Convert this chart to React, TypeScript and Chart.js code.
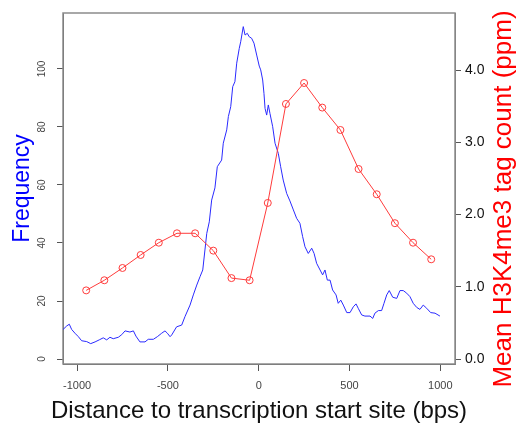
import React, { useEffect, useRef } from 'react';
import { Chart, registerables } from 'chart.js';

Chart.register(...registerables);

// Blue series: frequency of peaks vs distance to TSS
const freqPositions = [
  -1077, -1057, -1043, -1030, -1012, -993, -975, -947, -925, -901,
  -878, -856, -837, -819, -801, -773, -754, -736, -709, -690,
  -676, -654, -626, -608, -580, -558, -534, -516, -503, -488,
  -479, -452, -424, -406, -378, -360, -341, -323, -308, -296,
  -286, -272, -259, -241, -228, -204, -195, -176, -167, -154,
  -143, -131, -121, -107, -99, -85, -75, -63, -52, -39,
  -26, -11, 3, 11, 22, 29, 35, 44, 53, 62,
  77, 90, 108, 121, 135, 154, 172, 191, 209, 227,
  242, 255, 273, 292, 305, 319, 338, 352, 365, 378,
  393, 407, 426, 438, 452, 466, 485, 503, 521, 536,
  548, 567, 585, 613, 628, 640, 659, 677, 690, 705,
  719, 738, 760, 778, 796, 815, 833, 851, 870, 888,
  906, 925, 947, 971, 998,
];
const freqValues = [
  10.2, 11.4, 12.0, 10.2, 8.9, 7.7, 6.3, 6.0, 5.3, 5.9,
  6.6, 7.3, 6.6, 7.5, 7.0, 7.5, 8.4, 9.7, 9.3, 9.7,
  7.9, 5.9, 5.9, 6.8, 6.8, 7.7, 8.9, 9.7, 8.9, 7.7,
  8.3, 11.1, 11.7, 14.6, 18.6, 22.1, 25.5, 28.4, 30.7, 37.6,
  43.3, 47.3, 54.8, 59.0, 66.3, 68.6, 74.4, 79, 83.6, 87,
  93.9, 95.6, 102, 107.1, 109.4, 114.6, 111.7, 112.3, 111.1, 110.6,
  108.9, 104.8, 101, 99.7, 96.2, 91.6, 86.4, 84.1, 87.6, 84.7,
  80.1, 74.4, 70.9, 66.3, 61.7, 57.1, 54.5, 51.4, 48.5, 46.8,
  42.2, 38.7, 36.4, 38.2, 36.4, 33, 30.7, 29, 30.7, 27.2,
  27.2, 23.8, 22.1, 19.2, 20.3, 18.6, 16, 16, 18, 19,
  17.5, 15.2, 14.8, 14.8, 14, 15.8, 16.7, 16.7, 19.2, 22.1,
  23.6, 21.3, 20.9, 23.6, 23.6, 22.7, 21.5, 19.2, 17.8, 17.1,
  18.6, 17.5, 16, 15.8, 14.8,
];

// Red series: mean H3K4me3 tag count (ppm)
const tagPositions = [
  -950, -850, -750, -650, -550, -450, -350, -250, -150, -50,
  50, 150, 250, 350, 450, 550, 650, 750, 850, 950,
];
const tagValues = [
  0.95, 1.09, 1.26, 1.44, 1.61, 1.74, 1.74, 1.50, 1.12, 1.09,
  2.16, 3.53, 3.82, 3.48, 3.17, 2.63, 2.28, 1.88, 1.61, 1.38,
];

const xTicks = [-1000, -500, 0, 500, 1000];
const leftTicks = [0, 20, 40, 60, 80, 100];
const rightTicks = [0, 1, 2, 3, 4];

const xTitle = 'Distance to transcription start site (bps)';
const leftTitle = 'Frequency';
const rightTitle = 'Mean H3K4me3 tag count (ppm)';

const decorPlugin = {
  id: 'decor',
  beforeDatasetsDraw(chart: any) {
    const { ctx, chartArea: a } = chart;
    ctx.save();
    ctx.strokeStyle = '#8c8c8c';
    ctx.lineWidth = 1.5;
    ctx.strokeRect(a.left, a.top, a.right - a.left, a.bottom - a.top);
    ctx.restore();
  },
  afterDraw(chart: any) {
    const { ctx, scales } = chart;
    const y = scales.y;
    ctx.save();
    ctx.fillStyle = '#444';
    ctx.font = '10px "Liberation Sans", Arial, sans-serif';
    ctx.textAlign = 'center';
    ctx.textBaseline = 'middle';
    leftTicks.forEach((v) => {
      const py = y.getPixelForValue(v);
      ctx.save();
      ctx.translate(42, py);
      ctx.rotate(-Math.PI / 2);
      ctx.fillText(String(v), 0, 0);
      ctx.restore();
    });
    // x-axis title (not width-limited)
    ctx.fillStyle = '#111';
    ctx.font = '24px "Liberation Sans", Arial, sans-serif';
    ctx.fillText(xTitle, 259, 411);
    // right title, reading bottom-to-top
    ctx.fillStyle = '#ff0000';
    ctx.font = '26px "Liberation Sans", Arial, sans-serif';
    ctx.save();
    ctx.translate(504, 199);
    ctx.rotate(-Math.PI / 2);
    ctx.fillText(rightTitle, 0, 0);
    ctx.restore();
    ctx.restore();
  },
};

export default function App() {
  const ref = useRef<HTMLCanvasElement | null>(null);

  useEffect(() => {
    const canvas = ref.current;
    if (!canvas) return;
    const blueData = freqPositions.map((x, i) => ({ x, y: freqValues[i] }));
    const redData = tagPositions.map((x, i) => ({ x, y: tagValues[i] }));

    const chart = new Chart(canvas, {
      type: 'scatter',
      data: {
        datasets: [
          {
            label: 'H3K4me3',
            data: redData,
            yAxisID: 'y2',
            showLine: true,
            borderColor: '#ff3b3b',
            borderWidth: 1,
            pointRadius: 3.5,
            pointBorderColor: '#ff3b3b',
            pointBackgroundColor: 'rgba(255,255,255,0)',
            pointBorderWidth: 1,
            order: 0,
          },
          {
            label: 'Frequency',
            data: blueData,
            yAxisID: 'y',
            showLine: true,
            borderColor: '#2a2aff',
            borderWidth: 1,
            pointRadius: 0,
            tension: 0,
            order: 1,
          },
        ],
      },
      options: {
        responsive: false,
        animation: false,
        devicePixelRatio: 1,
        layout: { padding: { top: 13, left: 0, right: 0, bottom: 0 } },
        plugins: { legend: { display: false }, tooltip: { enabled: false } },
        scales: {
          x: {
            type: 'linear',
            position: 'bottom',
            min: -1077.6,
            max: 1081,
            afterBuildTicks: (s: any) => {
              s.ticks = xTicks.map((v) => ({ value: v }));
            },
            afterFit: (s: any) => {
              s.height = 63;
            },
            grid: { drawOnChartArea: false, tickLength: 7, color: '#555', lineWidth: 1 },
            border: { display: true, color: '#555', width: 1 },
            ticks: {
              padding: 8,
              color: '#444',
              font: { family: '"Liberation Sans", Arial, sans-serif', size: 11 },
              maxRotation: 0,
              autoSkip: false,
              callback: (v: any) => String(v),
            },
          },
          y: {
            type: 'linear',
            position: 'left',
            min: -1.72,
            max: 119.3,
            afterBuildTicks: (s: any) => {
              s.ticks = leftTicks.map((v) => ({ value: v }));
            },
            afterFit: (s: any) => {
              s.width = 63;
            },
            grid: { drawOnChartArea: false, tickLength: 6, color: '#555', lineWidth: 1 },
            border: { display: true, color: '#555', width: 1 },
            ticks: { display: false },
            title: {
              display: true,
              text: leftTitle,
              color: '#0000ff',
              font: { family: '"Liberation Sans", Arial, sans-serif', size: 23 },
              padding: { top: 9, bottom: 0 },
            },
          },
          y2: {
            type: 'linear',
            position: 'right',
            min: -0.069,
            max: 4.789,
            afterBuildTicks: (s: any) => {
              s.ticks = rightTicks.map((v) => ({ value: v }));
            },
            afterFit: (s: any) => {
              s.width = 63;
            },
            grid: { drawOnChartArea: false, tickLength: 6, color: '#555', lineWidth: 1 },
            border: { display: true, color: '#777', width: 1 },
            ticks: {
              padding: 4,
              color: '#111',
              font: { family: '"Liberation Sans", Arial, sans-serif', size: 14 },
              callback: (v: any) => Number(v).toFixed(1),
            },
          },
        },
      },
      plugins: [decorPlugin],
    });
    return () => chart.destroy();
  }, []);

  return (
    <div style={{ position: 'fixed', left: 0, top: 0, width: 518, height: 427, background: '#fff' }}>
      <canvas ref={ref} width={518} height={427} style={{ display: 'block' }} />
    </div>
  );
}
